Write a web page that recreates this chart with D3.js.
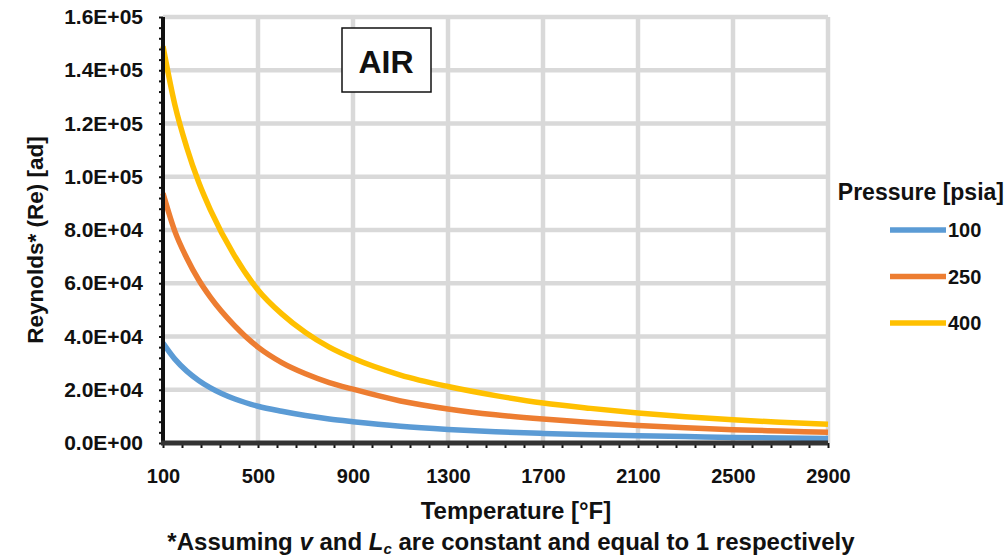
<!DOCTYPE html>
<html>
<head>
<meta charset="utf-8">
<script src="https://cdn.jsdelivr.net/npm/d3@7"></script>
<style>
  body { margin: 0; background: #fff; }
  text { font-family: "Liberation Sans", Arial, sans-serif; font-weight: bold; fill: #111; }
</style>
</head>
<body>
<div id="chart"></div>
<script>
// Data (Re values vs temperature, per pressure)
const temps = [100, 150, 200, 250, 300, 400, 500, 600, 700, 800, 900, 1100, 1300, 1500, 1700, 1900, 2100, 2300, 2500, 2700, 2900];
const re100 = [37500, 31500, 27000, 23500, 20700, 16600, 13800, 11900, 10300, 9000, 8000, 6300, 5100, 4200, 3600, 3100, 2700, 2400, 2100, 1900, 1700];
const re250 = [93800, 79500, 69500, 61300, 54700, 44200, 36000, 30200, 26000, 22700, 20200, 15800, 12800, 10600, 9000, 7700, 6600, 5700, 5000, 4500, 4000];
const re400 = [149000, 127000, 111000, 98000, 87500, 70500, 57500, 48500, 41500, 36000, 31800, 25500, 21200, 17800, 15000, 13000, 11300, 9900, 8700, 7800, 7000];
const pressures = ["100", "250", "400"];
const colors = ["#5B9BD5", "#ED7D31", "#FFC000"];
const xTicks = [100, 500, 900, 1300, 1700, 2100, 2500, 2900];
const yTicks = [0, 20000, 40000, 60000, 80000, 100000, 120000, 140000, 160000];

const W = 1008, H = 560;
const MARGIN = {TOP: 17, BOTTOM: 117, LEFT: 163, RIGHT: 180};
const plotW = W - MARGIN.LEFT - MARGIN.RIGHT;
const plotH = H - MARGIN.TOP - MARGIN.BOTTOM;

const svg = d3.select("#chart").append("svg")
    .attr("width", W)
    .attr("height", H);

const g = svg.append("g")
    .attr("transform", `translate(${MARGIN.LEFT}, ${MARGIN.TOP})`);

const x = d3.scaleLinear().domain([100, 2900]).range([0, plotW]);
const y = d3.scaleLinear().domain([0, 160000]).range([plotH, 0]);

// Gridlines
g.append("g")
    .selectAll("line")
    .data(yTicks.slice(1))
    .join("line")
        .attr("x1", 0).attr("x2", plotW)
        .attr("y1", d => y(d)).attr("y2", d => y(d))
        .attr("stroke", "#d9d9d9").attr("stroke-width", 4.5);
g.append("g")
    .selectAll("line")
    .data(xTicks.slice(1))
    .join("line")
        .attr("x1", d => x(d)).attr("x2", d => x(d))
        .attr("y1", 0).attr("y2", plotH)
        .attr("stroke", "#d9d9d9").attr("stroke-width", 4.5);

// Series
const series = [re100, re250, re400].map((vals, i) => ({
    name: pressures[i],
    color: colors[i],
    points: temps.map((t, j) => [t, vals[j]])
}));
const line = d3.line()
    .x(d => x(d[0]))
    .y(d => y(d[1]))
    .curve(d3.curveMonotoneX);

g.selectAll("path.series")
    .data(series)
    .join("path")
        .attr("class", "series")
        .attr("d", d => line(d.points))
        .attr("fill", "none")
        .attr("stroke", d => d.color)
        .attr("stroke-width", 5.5)
        .attr("stroke-linejoin", "round");

// Axes: minor ticks then main lines
const yMinor = d3.axisLeft(y).tickValues(d3.range(0, 160001, 4000)).tickSize(4).tickFormat("");
g.append("g").call(yMinor)
    .call(a => a.select(".domain").remove())
    .selectAll("line").attr("stroke", "#111").attr("stroke-width", 2);
const xMinor = d3.axisBottom(x).tickValues(d3.range(100, 2901, 80)).tickSize(5).tickFormat("");
g.append("g").attr("transform", `translate(0, ${plotH})`).call(xMinor)
    .call(a => a.select(".domain").remove())
    .selectAll("line").attr("stroke", "#111").attr("stroke-width", 2);

g.append("line")
    .attr("x1", 0).attr("x2", 0).attr("y1", 0).attr("y2", plotH + 2)
    .attr("stroke", "#111").attr("stroke-width", 4);
g.append("line")
    .attr("x1", -2).attr("x2", plotW).attr("y1", plotH).attr("y2", plotH)
    .attr("stroke", "#333").attr("stroke-width", 5);

// Tick labels
const yAxis = d3.axisLeft(y).tickValues(yTicks).tickSize(0).tickPadding(20)
    .tickFormat(d => d3.format(".1e")(d).replace("e", "E").replace(/E([+-])(\d)$/, "E$10$2"));
g.append("g").call(yAxis)
    .call(a => a.select(".domain").remove())
    .selectAll("text").style("font-size", "21px").attr("fill", "#111");

const xAxis = d3.axisBottom(x).tickValues(xTicks).tickSize(0).tickPadding(26).tickFormat(d3.format("d"));
g.append("g").attr("transform", `translate(0, ${plotH})`).call(xAxis)
    .call(a => a.select(".domain").remove())
    .selectAll("text").style("font-size", "20px").attr("fill", "#111");

// Axis titles and footnote
svg.append("text")
    .attr("x", 516)
    .attr("y", 519)
    .attr("text-anchor", "middle")
    .style("font-size", "24px")
    .text("Temperature [°F]");

svg.append("text")
    .attr("transform", "translate(43, 240) rotate(-90)")
    .attr("text-anchor", "middle")
    .style("font-size", "22.5px")
    .text("Reynolds* (Re) [ad]");

const foot = svg.append("text")
    .attr("x", 511)
    .attr("y", 550)
    .attr("text-anchor", "middle")
    .style("font-size", "24px");
foot.append("tspan").text("*Assuming ");
foot.append("tspan").style("font-style", "italic").text("v");
foot.append("tspan").text(" and ");
foot.append("tspan").style("font-style", "italic").text("L");
foot.append("tspan").attr("dy", 4).style("font-size", "15px").style("font-style", "italic").text("c");
foot.append("tspan").attr("dy", -4).text(" are constant and equal to 1 respectively");

// AIR label box
svg.append("rect")
    .attr("x", 342).attr("y", 28).attr("width", 89).attr("height", 64)
    .attr("fill", "#fff").attr("stroke", "#111").attr("stroke-width", 1.5);
svg.append("text")
    .attr("x", 386).attr("y", 73)
    .attr("text-anchor", "middle")
    .style("font-size", "32px")
    .text("AIR");

// Legend
const legend = svg.append("g");
legend.append("text")
    .attr("x", 1004).attr("y", 200)
    .attr("text-anchor", "end")
    .style("font-size", "23px")
    .text("Pressure [psia]");
const items = legend.selectAll("g.item")
    .data(series)
    .join("g")
        .attr("class", "item")
        .attr("transform", (d, i) => `translate(0, ${230 + i * 46.5})`);
items.append("line")
    .attr("x1", 890).attr("x2", 946)
    .attr("stroke", d => d.color).attr("stroke-width", 5.5);
items.append("text")
    .attr("x", 948).attr("y", 7)
    .style("font-size", "20px")
    .text(d => d.name);
</script>
</body>
</html>
